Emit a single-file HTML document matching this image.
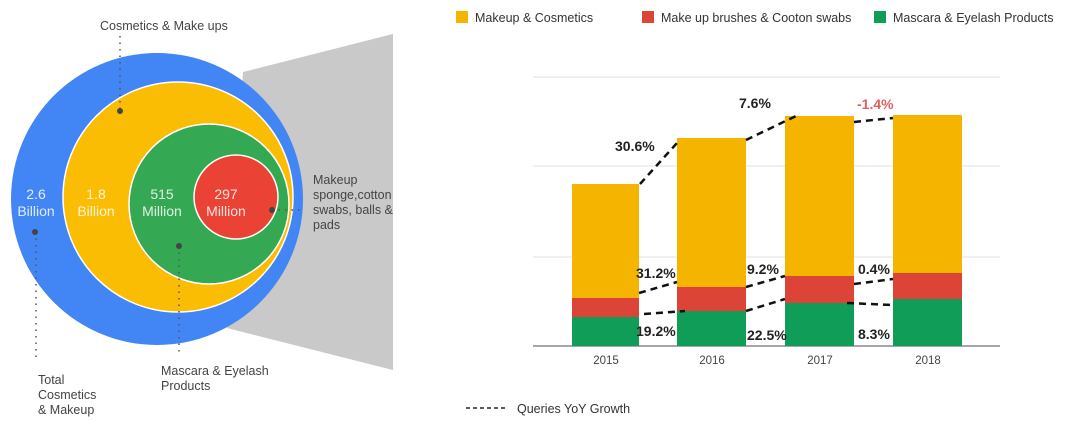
<!DOCTYPE html>
<html><head><meta charset="utf-8"><style>
html,body{margin:0;padding:0;background:#fff;}
svg{display:block;font-family:"Liberation Sans",sans-serif;}
</style></head><body>
<svg width="1080" height="421" viewBox="0 0 1080 421">
<polygon points="243,72 393,34 393,370 227,328" fill="#c9c9c9"/>
<circle cx="157" cy="199" r="146" fill="#4285f4"/>
<circle cx="178" cy="197" r="115" fill="#fbbc04" stroke="#fff" stroke-width="1.5"/>
<circle cx="209" cy="204" r="80" fill="#34a853" stroke="#fff" stroke-width="1.5"/>
<circle cx="236" cy="197" r="42" fill="#ea4335" stroke="#fff" stroke-width="1.5"/>
<g font-size="14" fill="#fff" text-anchor="middle" opacity="0.85">
<text x="36" y="199">2.6</text><text x="36" y="216">Billion</text>
<text x="96" y="199">1.8</text><text x="96" y="216">Billion</text>
<text x="162" y="199">515</text><text x="162" y="216">Million</text>
<text x="226" y="199">297</text><text x="226" y="216">Million</text>
</g>
<g stroke="#555" stroke-width="1.5" stroke-dasharray="1.5,5" fill="none">
<line x1="120" y1="36" x2="120" y2="110"/>
<line x1="36" y1="232" x2="36" y2="362"/>
<line x1="179" y1="246" x2="179" y2="352"/>
<line x1="272" y1="210" x2="302" y2="210"/>
</g>
<g fill="#444"><circle cx="120" cy="111" r="3"/><circle cx="35" cy="232" r="3"/><circle cx="179" cy="246" r="3"/><circle cx="272" cy="210" r="3"/></g>
<g font-size="12.5" fill="#444">
<text x="100" y="30">Cosmetics &amp; Make ups</text>
<text x="38" y="384">Total</text><text x="38" y="399">Cosmetics</text><text x="38" y="414">&amp; Makeup</text>
<text x="161" y="375">Mascara &amp; Eyelash</text><text x="161" y="390">Products</text>
<text x="313" y="184">Makeup</text><text x="313" y="199">sponge,cotton</text><text x="313" y="214">swabs, balls &amp;</text><text x="313" y="229">pads</text>
</g>
<g font-size="12.5" fill="#333">
<rect x="456" y="11" width="12" height="12" fill="#f4b400"/><text x="475" y="22">Makeup &amp; Cosmetics</text>
<rect x="642" y="11" width="12" height="12" fill="#db4437"/><text x="661" y="22">Make up brushes &amp; Cooton swabs</text>
<rect x="874" y="11" width="12" height="12" fill="#0f9d58"/><text x="893" y="22">Mascara &amp; Eyelash Products</text>
</g>
<g stroke="#e4dce8" stroke-width="1"><line x1="533" y1="77" x2="1000" y2="77"/><line x1="533" y1="166" x2="1000" y2="166"/><line x1="533" y1="257" x2="1000" y2="257"/></g>
<line x1="533" y1="346" x2="1000" y2="346" stroke="#888" stroke-width="1.5"/>
<g>
<rect x="572" y="184" width="67" height="114" fill="#f4b400"/><rect x="572" y="298" width="67" height="19" fill="#db4437"/><rect x="572" y="317" width="67" height="29" fill="#0f9d58"/>
<rect x="677" y="138" width="69" height="149" fill="#f4b400"/><rect x="677" y="287" width="69" height="24" fill="#db4437"/><rect x="677" y="311" width="69" height="35" fill="#0f9d58"/>
<rect x="785" y="116" width="69" height="160" fill="#f4b400"/><rect x="785" y="276" width="69" height="27" fill="#db4437"/><rect x="785" y="303" width="69" height="43" fill="#0f9d58"/>
<rect x="893" y="115" width="69" height="158" fill="#f4b400"/><rect x="893" y="273" width="69" height="26" fill="#db4437"/><rect x="893" y="299" width="69" height="47" fill="#0f9d58"/>
</g>
<g font-size="11.5" fill="#444" text-anchor="middle"><text x="606" y="364">2015</text><text x="712" y="364">2016</text><text x="820" y="364">2017</text><text x="928" y="364">2018</text></g>
<g stroke="#111" stroke-width="2.5" stroke-dasharray="7,5" fill="none">
<polyline points="640,184 677,143"/><polyline points="746,140 796,116"/><polyline points="854,122 893,118"/>
<polyline points="639,293 677,282"/><polyline points="746,287 785,276"/><polyline points="854,284 893,279"/>
<polyline points="644,314 685,311"/><polyline points="746,311 785,299"/><polyline points="847,303 893,305"/>
</g>
<g font-size="14" font-weight="bold" fill="#222">
<text x="615" y="151">30.6%</text><text x="739" y="108">7.6%</text><text x="857" y="109" fill="#e06060">-1.4%</text>
<text x="636" y="278">31.2%</text><text x="747" y="274">9.2%</text><text x="858" y="274">0.4%</text>
<text x="636" y="336">19.2%</text><text x="747" y="340">22.5%</text><text x="858" y="339">8.3%</text>
</g>
<line x1="466" y1="408" x2="505" y2="408" stroke="#222" stroke-width="1.5" stroke-dasharray="4,3"/>
<text x="517" y="413" font-size="12.5" fill="#333">Queries YoY Growth</text>
</svg>
</body></html>
